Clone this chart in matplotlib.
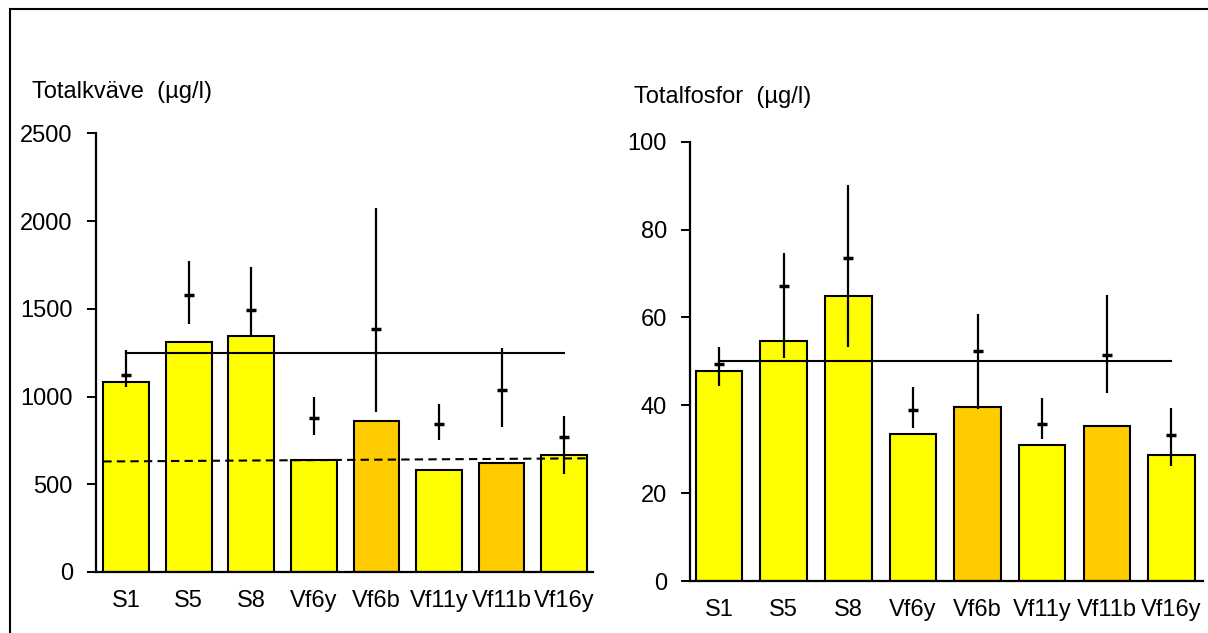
import matplotlib
matplotlib.use("Agg")
import matplotlib.pyplot as plt
import numpy as np
from matplotlib.lines import Line2D

plt.rcParams['font.family'] = ['Liberation Sans', 'DejaVu Sans']

# Stations and bar colours
stations = ['S1', 'S5', 'S8', 'Vf6y', 'Vf6b', 'Vf11y', 'Vf11b', 'Vf16y']
bar_colors = ['#FFFF00', '#FFFF00', '#FFFF00', '#FFFF00', '#FFCC00', '#FFFF00', '#FFCC00', '#FFFF00']

# Total nitrogen (ug/l): bars, mean with min/max range, reference levels
tot_n = [1085, 1312, 1347, 636, 862, 582, 624, 668]
n_mean = [1123, 1578, 1493, 877, 1385, 843, 1036, 767]
n_low = [1055, 1413, 1347, 782, 913, 752, 828, 559]
n_high = [1265, 1773, 1741, 998, 2076, 956, 1278, 890]
n_ref = 1250
n_trend = [630, 648]

# Total phosphorus (ug/l)
tot_p = [47.8, 54.7, 64.8, 33.5, 39.6, 30.9, 35.2, 28.8]
p_mean = [49.4, 67.1, 73.6, 38.9, 52.3, 35.8, 51.4, 33.3]
p_low = [44.3, 50.8, 53.2, 34.9, 39.2, 32.3, 42.7, 26.2]
p_high = [53.3, 74.6, 90.1, 44.2, 60.8, 41.6, 65.2, 39.5]
p_ref = 50

FS = 17

fig = plt.figure(figsize=(12.08, 6.33), dpi=100)

ax1 = fig.add_axes([0.0792, 0.0964, 0.4117, 0.6927])
ax2 = fig.add_axes([0.5712, 0.0821, 0.4247, 0.6940])

x = np.arange(len(stations))


def draw_panel(ax, values, mean, low, high, ylim, yticks, xlim, width):
    ax.bar(x, values, width=width, color=bar_colors, edgecolor='black', linewidth=1.5, zorder=2)
    mean = np.array(mean)
    yerr = [mean - np.array(low), np.array(high) - mean]
    ax.errorbar(x, mean, yerr=yerr, fmt='_', color='black', ms=7, mew=2.5,
                elinewidth=1.6, capsize=0, zorder=4)
    ax.set_ylim(*ylim)
    ax.set_xlim(*xlim)
    ax.set_yticks(yticks)
    ax.set_xticks(x)
    ax.set_xticklabels(stations)
    for side in ['top', 'right']:
        ax.spines[side].set_visible(False)
    for side in ['left', 'bottom']:
        ax.spines[side].set_linewidth(1.6)
    ax.tick_params(axis='y', length=6.5, width=1.4, pad=10, labelsize=FS, direction='out')
    ax.tick_params(axis='x', length=0, pad=13, labelsize=FS)


draw_panel(ax1, tot_n, n_mean, n_low, n_high, (0, 2500), [0, 500, 1000, 1500, 2000, 2500],
           (-0.487, 7.46), 0.73)
draw_panel(ax2, tot_p, p_mean, p_low, p_high, (0, 100), [0, 20, 40, 60, 80, 100],
           (-0.45, 7.49), 0.72)

# reference lines
ax1.plot([x[0], x[-1]], [n_ref, n_ref], color='black', lw=1.5, zorder=3)
ax1.plot([x[0] - 0.365, x[-1] + 0.365], n_trend, color='black', lw=1.5,
         linestyle=(0, (4, 2.5)), zorder=3)
ax2.plot([x[0], x[-1]], [p_ref, p_ref], color='black', lw=1.5, zorder=3)

# panel titles
fig.text(32 / 1208, 1 - 98 / 633, 'Totalkväve  (µg/l)', fontsize=FS, va='baseline', ha='left')
fig.text(634 / 1208, 1 - 103 / 633, 'Totalfosfor  (µg/l)', fontsize=FS, va='baseline', ha='left')

# outer frame (top and left edges)
fig.add_artist(Line2D([9.5 / 1208, 1.0], [1 - 8.5 / 633, 1 - 8.5 / 633],
                      transform=fig.transFigure, color='black', lw=1.5))
fig.add_artist(Line2D([9.5 / 1208, 9.5 / 1208], [0.0, 1 - 8.5 / 633],
                      transform=fig.transFigure, color='black', lw=1.5))

fig.savefig('out.png', dpi=100)
